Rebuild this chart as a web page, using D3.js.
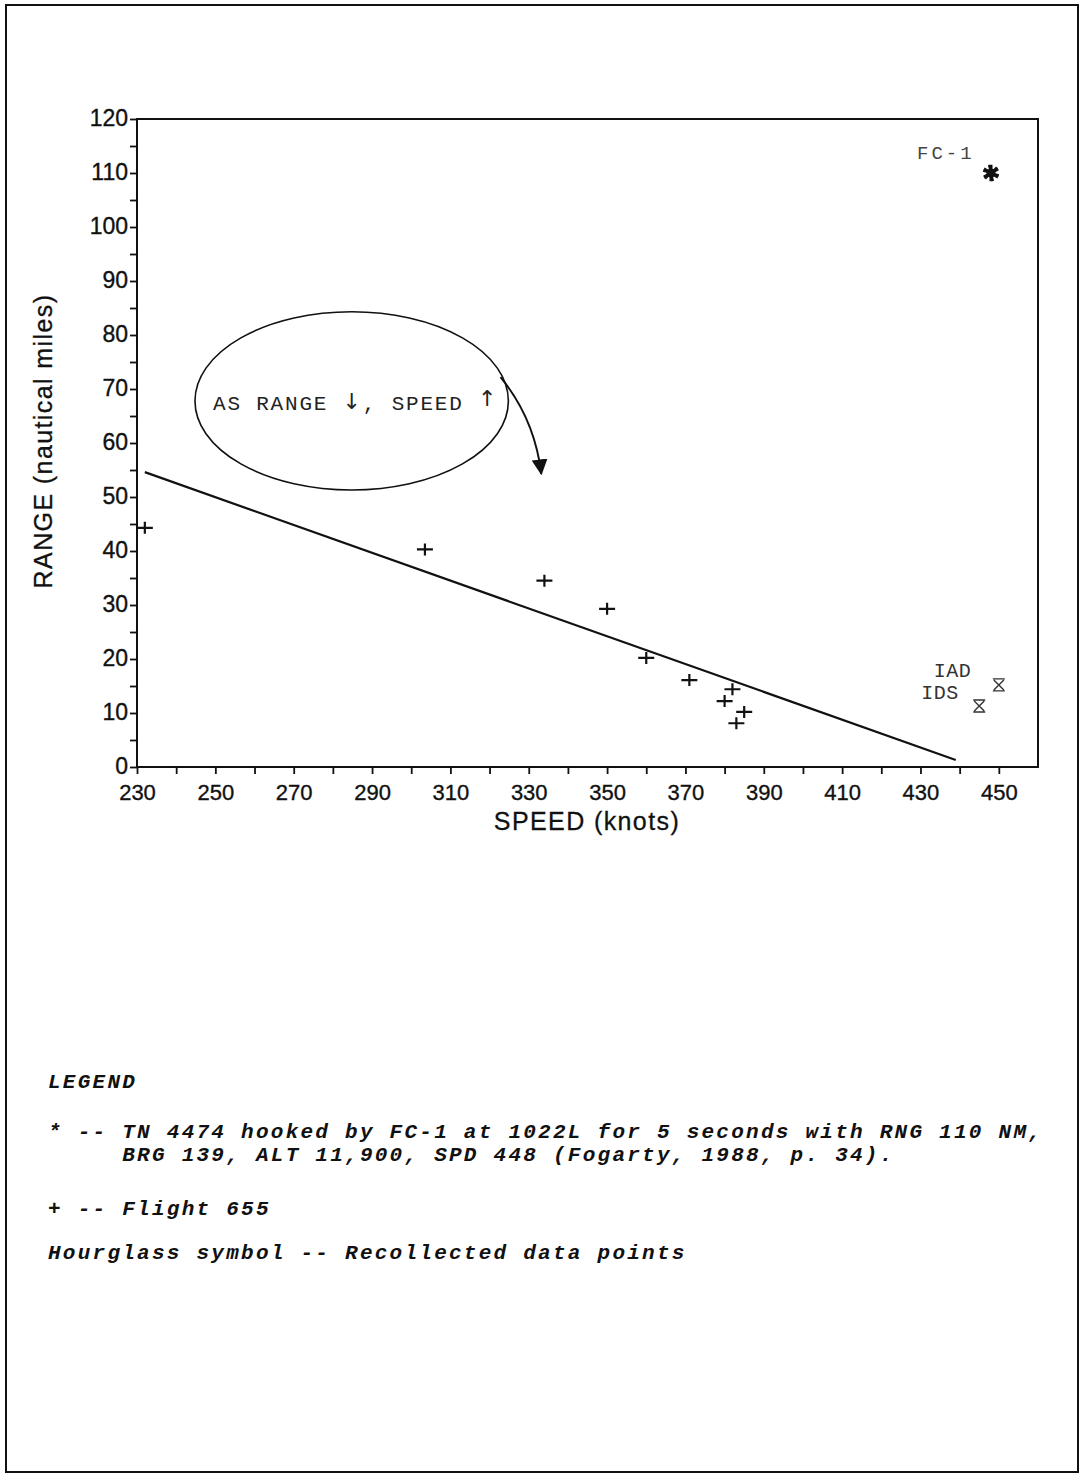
<!DOCTYPE html>
<html>
<head>
<meta charset="utf-8">
<script src="https://cdn.jsdelivr.net/npm/d3@7"></script>
<style>
  html, body { margin: 0; padding: 0; background: #fff; }
  svg { display: block; }
</style>
</head>
<body>
<script>
// Flight 655: speed (knots) against range (nautical miles)
const flightSpeed = [232, 303.5, 334, 350, 360, 371, 380, 382, 385, 383];
const flightRange = [44.3, 40.3, 34.5, 29.3, 20.2, 16.1, 12.2, 14.4, 10.2, 8.1];

// Fitted trend line end points
const fitSpeed = [232, 439];
const fitRange = [54.6, 1.3];

// TN 4474 hooked by FC-1
const fc1Speed = [448];
const fc1Range = [110];
const fc1Label = ["FC-1"];

// Recollected data points (hourglass symbol)
const recSpeed = [450, 445];
const recRange = [15.2, 11.3];
const recLabel = ["IAD", "IDS"];

// Axis ticks
const speedTicks = [230, 250, 270, 290, 310, 330, 350, 370, 390, 410, 430, 450];
const speedMinor = d3.range(230, 460, 10);
const rangeTicks = [0, 10, 20, 30, 40, 50, 60, 70, 80, 90, 100, 110, 120];
const rangeMinor = d3.range(0, 121, 5);

const legendLines = [
  "LEGEND",
  "* -- TN 4474 hooked by FC-1 at 1022L for 5 seconds with RNG 110 NM,",
  "     BRG 139, ALT 11,900, SPD 448 (Fogarty, 1988, p. 34).",
  "+ -- Flight 655",
  "Hourglass symbol -- Recollected data points"
];

const W = 1082, H = 1479;
const svg = d3.select("body").append("svg").attr("width", W).attr("height", H);
svg.append("rect").attr("width", W).attr("height", H).attr("fill", "#fff");

// page frame
svg.append("rect").attr("x", 6).attr("y", 5).attr("width", 1072).attr("height", 1467)
  .attr("fill", "none").attr("stroke", "#111").attr("stroke-width", 2);

const x = d3.scaleLinear().domain([230, 460]).range([137, 1038]);
const y = d3.scaleLinear().domain([0, 120]).range([767, 119]);

const ink = "#111";
const sans = "'Liberation Sans', Arial, Helvetica, sans-serif";
const mono = "'Liberation Mono', 'Courier New', monospace";

// plot box
const g = svg.append("g");
g.append("rect").attr("x", x(230)).attr("y", y(120))
  .attr("width", x(460) - x(230)).attr("height", y(0) - y(120))
  .attr("fill", "none").attr("stroke", ink).attr("stroke-width", 2);

// x axis
const xAxis = g.append("g").attr("transform", `translate(0,${y(0)})`)
  .call(d3.axisBottom(x).tickValues(speedMinor).tickSize(7).tickFormat(""));
xAxis.select(".domain").remove();
xAxis.selectAll(".tick line").attr("stroke", ink).attr("stroke-width", 1.8);
const xLab = g.append("g").attr("transform", `translate(0,${y(0)})`)
  .call(d3.axisBottom(x).tickValues(speedTicks).tickSize(0).tickPadding(17).tickFormat(d3.format("d")));
xLab.select(".domain").remove();
xLab.selectAll("text").attr("font-family", sans).attr("font-size", 22).attr("fill", ink)
  .attr("stroke", ink).attr("stroke-width", 0.35).attr("dy", "0.72em");

// y axis
const yAxis = g.append("g").attr("transform", `translate(${x(230)},0)`)
  .call(d3.axisLeft(y).tickValues(rangeMinor).tickSize(7).tickFormat(""));
yAxis.select(".domain").remove();
yAxis.selectAll(".tick line").attr("stroke", ink).attr("stroke-width", 1.8);
const yLab = g.append("g").attr("transform", `translate(${x(230)},0)`)
  .call(d3.axisLeft(y).tickValues(rangeTicks).tickSize(0).tickPadding(9).tickFormat(d3.format("d")));
yLab.select(".domain").remove();
yLab.selectAll("text").attr("font-family", sans).attr("font-size", 23).attr("fill", ink)
  .attr("stroke", ink).attr("stroke-width", 0.35).attr("dy", "0.3em");

// axis titles
svg.append("text").attr("x", 587).attr("y", 830).attr("text-anchor", "middle")
  .attr("font-family", sans).attr("font-size", 25).attr("letter-spacing", 1.4).attr("fill", ink)
  .attr("stroke", ink).attr("stroke-width", 0.3)
  .text("SPEED (knots)");
svg.append("text").attr("transform", "translate(52,441) rotate(-90)").attr("text-anchor", "middle")
  .attr("font-family", sans).attr("font-size", 25).attr("letter-spacing", 1.4).attr("fill", ink)
  .attr("stroke", ink).attr("stroke-width", 0.3)
  .text("RANGE (nautical miles)");

// trend line
const fit = fitSpeed.map((s, i) => [s, fitRange[i]]);
g.append("path").datum(fit)
  .attr("d", d3.line().x(d => x(d[0])).y(d => y(d[1])))
  .attr("fill", "none").attr("stroke", ink).attr("stroke-width", 2.2);

// Flight 655 crosses
const flights = flightSpeed.map((s, i) => ({ s, r: flightRange[i] }));
const cross = g.selectAll("g.cross").data(flights).join("g").attr("class", "cross")
  .attr("transform", d => `translate(${x(d.s)},${y(d.r)})`);
cross.append("path").attr("d", "M-8,0H8M0,-6V6")
  .attr("stroke", ink).attr("stroke-width", 2.2).attr("fill", "none");

// FC-1 burst
const fc = fc1Speed.map((s, i) => ({ s, r: fc1Range[i], label: fc1Label[i] }));
const fcG = g.selectAll("g.fc").data(fc).join("g").attr("class", "fc")
  .attr("transform", d => `translate(${x(d.s)},${y(d.r)})`);
fcG.append("path").attr("d", d3.symbol(d3.symbolAsterisk, 190)())
  .attr("stroke", ink).attr("stroke-width", 3).attr("fill", "none");
fcG.append("path").attr("d", d3.symbol(d3.symbolAsterisk, 190)())
  .attr("transform", "rotate(45)")
  .attr("stroke", ink).attr("stroke-width", 2).attr("fill", "none");
fcG.append("circle").attr("r", 4.5).attr("fill", ink);
fcG.append("text").attr("x", -74).attr("y", -14)
  .attr("font-family", mono).attr("font-size", 19).attr("letter-spacing", 3)
  .attr("fill", "#444").text(d => d.label);

// recollected points (hourglass)
const rec = recSpeed.map((s, i) => ({ s, r: recRange[i], label: recLabel[i] }));
const recG = g.selectAll("g.rec").data(rec).join("g").attr("class", "rec")
  .attr("transform", d => `translate(${x(d.s)},${y(d.r)})`);
recG.append("path").attr("d", "M-6,-6H6M-6,6H6M-5,-5L5,5M5,-5L-5,5")
  .attr("stroke", "#333").attr("stroke-width", 1.4).attr("fill", "none");
recG.append("text")
  .attr("x", (d, i) => i === 0 ? -65 : -58)
  .attr("y", (d, i) => i === 0 ? -8 : -7)
  .attr("font-family", mono).attr("font-size", 20).attr("letter-spacing", 0.5)
  .attr("fill", "#333").text(d => d.label);

// annotation: ellipse, text and curved arrow (data units)
const note = { cx: 284.8, cy: 67.8, rxs: 40, rys: 16.5 };
g.append("ellipse")
  .attr("cx", x(note.cx)).attr("cy", y(note.cy))
  .attr("rx", x(note.cx + note.rxs) - x(note.cx))
  .attr("ry", y(note.cy - note.rys) - y(note.cy))
  .attr("fill", "none").attr("stroke", ink).attr("stroke-width", 1.6);
const noteText = g.append("text").attr("x", x(249.4)).attr("y", y(66.1))
  .attr("font-family", mono).attr("font-size", 21).attr("letter-spacing", 1.8)
  .attr("fill", "#222");
const arrowFont = "'DejaVu Sans', sans-serif";
noteText.append("tspan").text("AS RANGE ");
noteText.append("tspan").attr("font-family", arrowFont).attr("font-size", 22).attr("dy", -1).text("\u2193");
noteText.append("tspan").attr("dy", 1).text(", SPEED ");
noteText.append("tspan").attr("font-family", arrowFont).attr("font-size", 22).attr("dy", -4).text("\u2191");

svg.append("defs").append("marker").attr("id", "head")
  .attr("viewBox", "0 0 10 10").attr("refX", 9).attr("refY", 5)
  .attr("markerWidth", 16).attr("markerHeight", 16).attr("markerUnits", "userSpaceOnUse")
  .attr("orient", "auto")
  .append("path").attr("d", "M0,0L10,5L0,10Z").attr("fill", ink);
const arrowPts = [[322.8, 72.2], [331.5, 64.5], [333.2, 54.3]];
g.append("path")
  .attr("d", `M${x(arrowPts[0][0])},${y(arrowPts[0][1])}Q${x(arrowPts[1][0])},${y(arrowPts[1][1])} ${x(arrowPts[2][0])},${y(arrowPts[2][1])}`)
  .attr("fill", "none").attr("stroke", ink).attr("stroke-width", 2)
  .attr("marker-end", "url(#head)");

// legend
const legendY = [1088, 1138, 1161, 1215, 1259];
svg.append("g").selectAll("text").data(legendLines).join("text")
  .attr("x", 48).attr("y", (d, i) => legendY[i])
  .attr("xml:space", "preserve")
  .style("white-space", "pre")
  .attr("font-family", mono).attr("font-size", 21).attr("font-style", "italic")
  .attr("font-weight", "bold").attr("letter-spacing", 2.25)
  .attr("fill", "#111").text(d => d);
</script>
</body>
</html>
